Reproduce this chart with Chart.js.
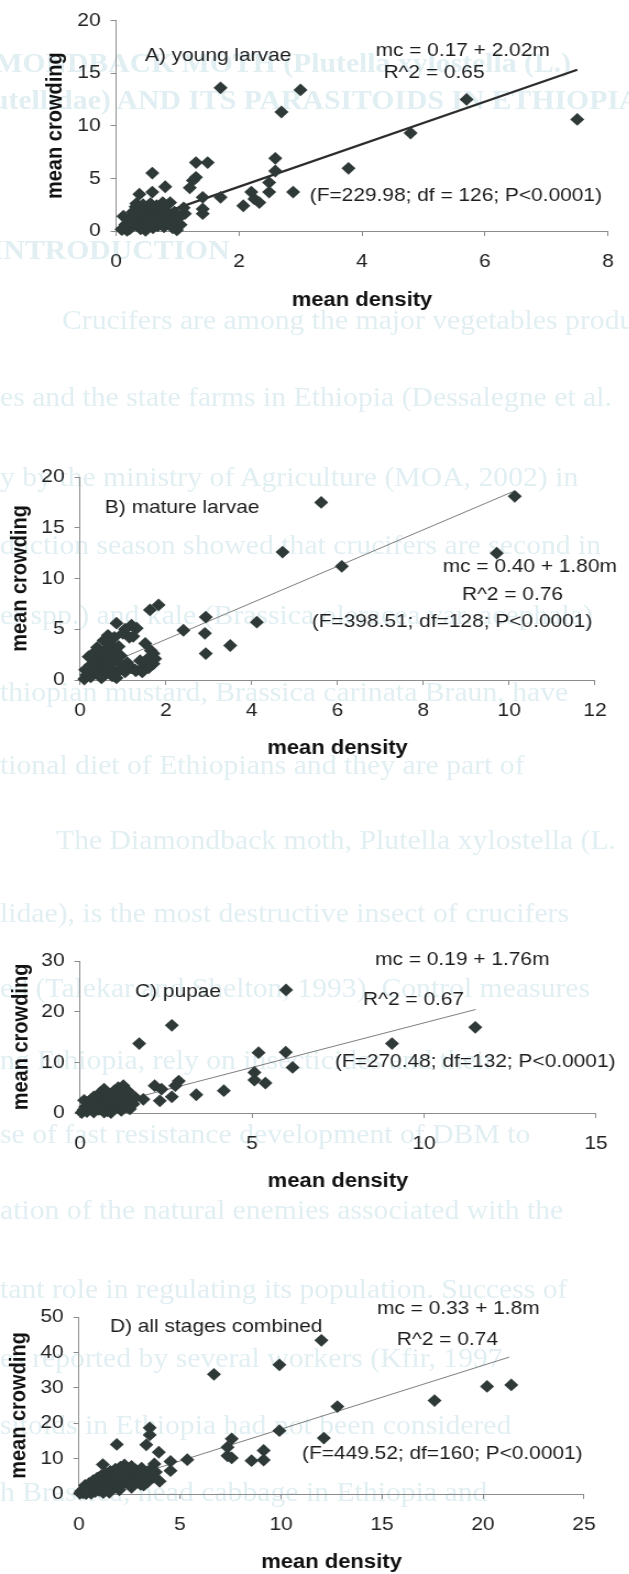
<!DOCTYPE html>
<html>
<head>
<meta charset="utf-8">
<script src="https://cdn.jsdelivr.net/npm/chart.js@4.4.1/dist/chart.umd.min.js"></script>
<style>
    html, body { margin: 0; padding: 0; background: #fff; overflow: hidden; }
    #page { position: absolute; left: 0; top: 0; width: 572px; height: 1574px; transform: scaleX(1.1); transform-origin: 0 0; overflow: hidden; }
    #page canvas { position: absolute; left: 0; }
    .bleed { position: absolute; white-space: nowrap; font-family: 'Liberation Serif', 'Times New Roman', serif;
             font-size: 27px; line-height: 30px; color: #e1eff3; }
    .bleed.head { font-weight: bold; }
</style>
</head>
<body>
<div id="page">
    <div id="bleed"></div>
    <canvas id="chartA"></canvas>
    <canvas id="chartB"></canvas>
    <canvas id="chartC"></canvas>
    <canvas id="chartD"></canvas>
</div>
<script>
// A) young larvae
var aDensity = [1.70, 3.00, 2.69, 5.70, 7.50, 4.79, 3.78, 2.88, 2.59, 2.59, 2.49, 2.49, 2.33, 2.25, 2.20, 2.07, 1.70, 1.49,
    1.30, 1.30, 1.25, 1.20, 1.41, 1.41, 1.41, 1.12, 1.01, 0.99, 0.88, 0.80, 0.59, 0.59, 0.38, 0.33, 0.22, 0.09,
    0.10, 0.18, 0.25, 0.30, 0.35, 0.40, 0.42, 0.45, 0.48, 0.50, 0.52, 0.55, 0.58, 0.60, 0.62, 0.65, 0.68, 0.70,
    0.72, 0.75, 0.78, 0.80, 0.82, 0.85, 0.88, 0.90, 0.92, 0.95, 0.98, 1.02, 1.05, 0.15, 0.20, 0.27, 0.32, 0.38,
    0.44, 0.50, 0.56, 0.66, 0.76, 1.10, 0.12, 0.22, 0.35];
var aCrowding = [13.6, 13.4, 11.3, 12.5, 10.6, 9.3, 5.95, 3.7, 6.9, 5.7, 4.6, 3.7, 2.7, 3.05, 3.7, 2.4, 3.2, 6.5,
    6.5, 5.1, 4.8, 4.1, 3.2, 2.1, 1.65, 1.65, 1.2, 0.1, 2.7, 4.2, 5.5, 3.7, 3.5, 2.6, 1.19, 0.16,
    0.15, 0.05, 0.4, 0.9, 1.3, 0.2, 0.8, 1.6, 0.05, 1.1, 2.0, 0.6, 1.4, 0.3, 1.9, 1.0, 0.5, 1.6,
    2.2, 0.9, 0.4, 1.3, 1.9, 0.7, 1.5, 1.1, 0.3, 1.8, 0.8, 1.3, 0.6, 0.6, 1.0, 1.8, 2.3, 1.9,
    2.5, 2.2, 2.6, 2.4, 2.7, 2.2, 1.4, 0.2, 0.5];
var aTrendX = [0.1, 7.5];
var aTrendY = [0.37, 15.32];

// B) mature larvae
var bDensity = [5.62, 10.13, 4.72, 6.10, 9.71, 2.93, 2.91, 2.93, 2.41, 3.50, 4.12, 1.83, 1.63, 0.85, 1.20, 1.32,
    1.24, 1.52, 1.71, 1.71, 1.48, 1.28, 1.09, 0.62,
    0.10, 0.15, 0.20, 0.25, 0.30, 0.35, 0.40, 0.45, 0.50, 0.50, 0.55, 0.60, 0.60, 0.65, 0.70, 0.70,
    0.75, 0.75, 0.80, 0.80, 0.90, 0.90, 0.95, 1.00, 1.00, 1.05, 1.05, 1.10, 1.15, 1.20, 1.30, 1.40,
    1.50, 1.60, 1.65, 1.75, 0.20, 0.30, 0.40, 0.55, 0.65, 0.35, 0.45, 0.25, 0.12, 0.85, 1.45, 1.60];
var bCrowding = [17.5, 18.1, 12.6, 11.2, 12.5, 6.2, 4.6, 2.6, 4.9, 3.4, 5.7, 7.4, 6.9, 5.6, 5.4, 5.1,
    4.3, 3.6, 2.6, 1.6, 1.3, 1.0, 1.0, 1.0,
    0.1, 0.5, 0.9, 0.3, 1.4, 0.7, 2.0, 1.1, 0.2, 2.6, 1.6, 0.6, 3.0, 2.2, 1.2, 3.6,
    0.4, 2.8, 1.8, 4.2, 0.9, 3.3, 2.4, 4.6, 1.4, 0.8, 5.0, 1.7, 4.2, 1.2, 0.9, 1.9,
    1.7, 2.2, 2.9, 2.1, 2.3, 2.6, 3.2, 3.9, 4.4, 1.8, 0.5, 1.5, 1.0, 0.2, 0.8, 1.2];
var bTrendX = [0.1, 10.1];
var bTrendY = [0.58, 18.58];

// C) pupae
var cDensity = [5.99, 2.67, 1.72, 11.49, 9.07, 5.19, 5.98, 6.18, 5.07, 5.07, 5.39, 4.18, 3.38, 2.87, 2.77, 2.67,
    2.17, 2.32, 2.37, 1.84, 1.55, 1.55, 1.26, 1.11, 0.70,
    0.05, 0.10, 0.15, 0.20, 0.25, 0.30, 0.35, 0.40, 0.45, 0.50, 0.55, 0.60, 0.65, 0.70, 0.75, 0.80,
    0.85, 0.90, 0.95, 1.00, 1.05, 1.10, 1.15, 1.20, 1.25, 1.30, 1.35, 1.40, 1.45, 1.50, 0.20, 0.40,
    0.60, 0.80, 1.00, 0.30, 0.50, 0.70, 0.90, 1.20, 1.40, 0.12, 1.60];
var cCrowding = [24.3, 17.3, 13.7, 16.9, 13.7, 11.9, 12.0, 9.0, 8.0, 6.5, 5.9, 4.4, 3.6, 6.3, 5.4, 3.2,
    5.4, 2.4, 4.7, 2.7, 1.8, 2.7, 5.4, 5.0, 4.7,
    0.1, 0.6, 1.2, 0.3, 1.8, 0.8, 2.4, 0.2, 1.4, 3.0, 0.7, 2.0, 3.6, 1.1, 2.7, 0.4,
    3.3, 1.7, 2.4, 0.9, 3.8, 1.5, 2.9, 0.5, 2.2, 3.4, 1.2, 2.6, 0.8, 1.9, 2.1, 3.2,
    4.1, 4.0, 4.4, 1.5, 1.0, 0.2, 0.1, 4.0, 4.3, 2.5, 3.1];
var cTrendX = [0.05, 11.5];
var cTrendY = [0.28, 20.43];

// D) all stages combined
var dDensity = [12.0, 9.92, 6.68, 20.2, 21.4, 17.6, 12.79, 9.92, 12.12, 7.56, 7.35, 7.35, 7.56, 8.54, 9.14, 9.14,
    5.36, 4.53, 1.87, 3.50, 3.50, 3.33, 3.95, 3.73, 3.99, 1.18, 4.53,
    0.05, 0.10, 0.20, 0.25, 0.30, 0.40, 0.45, 0.50, 0.55, 0.60, 0.65, 0.70, 0.75, 0.80, 0.85, 0.90,
    0.95, 1.00, 1.05, 1.10, 1.15, 1.20, 1.25, 1.30, 1.35, 1.40, 1.45, 1.50, 1.55, 1.60, 1.65, 1.70,
    1.75, 1.80, 1.85, 1.90, 1.95, 2.00, 2.05, 2.10, 2.15, 2.20, 2.25, 2.30, 2.35, 2.40, 2.45, 2.50,
    2.55, 2.60, 2.70, 2.75, 2.80, 2.90, 3.00, 3.05, 3.10, 3.20, 3.30, 3.40, 3.45, 3.55, 3.70, 3.80,
    1.20, 0.35, 1.50, 2.00, 2.60, 3.20];
var dCrowding = [43.4, 36.5, 33.8, 30.4, 30.8, 26.4, 24.7, 17.9, 15.8, 15.6, 13.2, 10.8, 10.2, 9.4, 12.3, 9.6,
    9.7, 9.2, 14.0, 18.7, 16.7, 13.9, 11.8, 8.5, 3.6, 8.3, 6.6,
    0.2, 0.8, 0.3, 1.5, 2.4, 0.6, 1.9, 3.0, 1.2, 0.2, 2.5, 3.8, 1.6, 0.7, 3.2, 4.5,
    2.2, 1.0, 3.6, 5.2, 2.6, 0.4, 4.2, 1.7, 5.8, 3.1, 2.0, 4.7, 6.4, 1.3, 3.6, 5.3,
    2.6, 7.0, 4.3, 1.8, 5.9, 3.4, 7.6, 2.5, 4.9, 6.6, 8.2, 3.8, 5.6, 7.2, 2.9, 4.4,
    6.2, 7.8, 3.5, 5.1, 6.8, 4.0, 5.8, 2.7, 7.3, 4.6, 6.1, 3.4, 5.2, 7.0, 4.8, 6.2,
    0.6, 0.1, 0.5, 1.2, 1.9, 2.5];
var dTrendX = [0.05, 21.3];
var dTrendY = [0.42, 38.67];

// faint text showing through from the other side of the scanned page
var bleedLines = [
    [-60, 48, 'DIAMONDBACK MOTH (Plutella xylostella (L.)', true],
    [-8, 85, 'utellidae) AND ITS PARASITOIDS IN ETHIOPIA', true],
    [-8, 235, 'INTRODUCTION', true],
    [62, 305, 'Crucifers are among the major vegetables produced', false],
    [0, 382, 'es and the state farms in Ethiopia (Dessalegne et al.', false],
    [0, 462, 'y by the ministry of Agriculture (MOA, 2002) in', false],
    [0, 530, 'duction season showed that crucifers are second in', false],
    [0, 600, 'er spp.) and kale (Brassica oleracea var. acephala)', false],
    [0, 677, 'thiopian mustard, Brassica carinata Braun, have', false],
    [0, 750, 'tional diet of Ethiopians and they are part of', false],
    [56, 825, 'The Diamondback moth, Plutella xylostella (L.', false],
    [0, 898, 'lidae), is the most destructive insect of crucifers', false],
    [0, 973, 'ed (Talekar and Shelton, 1993). Control measures', false],
    [0, 1045, 'ng Ethiopia, rely on insecticides and their', false],
    [0, 1119, 'se of fast resistance development of DBM to', false],
    [0, 1195, 'ation of the natural enemies associated with the', false],
    [0, 1274, 'tant role in regulating its population. Success of', false],
    [0, 1343, 'es reported by several workers (Kfir, 1997', false],
    [0, 1410, 'sitoids in Ethiopia had not been considered', false],
    [0, 1477, 'h Brassica, head cabbage in Ethiopia and', false]
];

var FONT = "'Liberation Sans', Arial, Helvetica, sans-serif";
var STRETCH = 1.1;      // the scanned page is a little wider than tall
var CANVAS_W = 572;
var MARK = '#2f3a38';

Chart.defaults.font.family = FONT;
Chart.defaults.color = '#222';

var bleed = document.getElementById('bleed');
bleedLines.forEach(function (l) {
    var d = document.createElement('div');
    d.className = l[3] ? 'bleed head' : 'bleed';
    d.style.left = (l[0] / STRETCH) + 'px';
    d.style.top = l[1] + 'px';
    d.textContent = l[2];
    bleed.appendChild(d);
});

function pts(xs, ys) {
    return xs.map(function (x, i) { return { x: x, y: ys[i] }; });
}

function makePanel(p) {
    var canvas = document.getElementById(p.id);
    canvas.width = CANVAS_W;
    canvas.height = p.height;
    canvas.style.top = p.top + 'px';

    var xh = p.xTitleY - p.plotBottom + 12;
    var padLeft = p.yTitleX / STRETCH - 12;
    var yw = p.plotLeft / STRETCH - padLeft;

    var notes = {
        id: 'notes',
        afterDraw: function (chart) {
            var ctx = chart.ctx;
            var xs = chart.scales.x, ys = chart.scales.y;
            ctx.save();
            ctx.font = '19px ' + FONT;
            ctx.fillStyle = '#1c1c1c';
            ctx.textBaseline = 'middle';
            ctx.textAlign = 'left';
            p.notes.forEach(function (n) {
                ctx.fillText(n.text, xs.getPixelForValue(n.x), ys.getPixelForValue(n.y));
            });
            ctx.restore();
        }
    };

    return new Chart(canvas, {
        type: 'scatter',
        data: {
            datasets: [{
                data: pts(p.xs, p.ys),
                pointStyle: 'rectRot',
                pointRadius: 6.4,
                pointHoverRadius: 6.4,
                backgroundColor: MARK,
                borderColor: MARK,
                borderWidth: 0,
                clip: false
            }, {
                type: 'line',
                data: pts(p.trendX, p.trendY),
                showLine: true,
                pointRadius: 0,
                borderColor: p.lineColor,
                borderWidth: p.lineWidth,
                fill: false,
                clip: false
            }]
        },
        options: {
            responsive: false,
            animation: false,
            devicePixelRatio: 1,
            events: [],
            layout: {
                padding: {
                    top: p.plotTop - p.top,
                    left: padLeft,
                    right: CANVAS_W - p.plotRight / STRETCH,
                    bottom: p.height - (p.plotBottom - p.top) - xh
                }
            },
            plugins: {
                legend: { display: false },
                tooltip: { enabled: false }
            },
            scales: {
                x: {
                    type: 'linear',
                    min: 0,
                    max: p.xMax,
                    ticks: { stepSize: p.xStep, padding: 14, font: { size: 19 }, color: '#222' },
                    grid: { display: true, drawOnChartArea: false, drawTicks: true, tickLength: 5, tickColor: '#8c8c8c' },
                    border: { display: true, color: '#8c8c8c', width: 1 },
                    title: { display: true, text: 'mean density', padding: 0, color: '#111', font: { size: 20, weight: 'bold' } },
                    afterFit: function (s) { s.height = xh; }
                },
                y: {
                    type: 'linear',
                    min: 0,
                    max: p.yMax,
                    ticks: { stepSize: p.yStep, padding: 9, font: { size: 19 }, color: '#222' },
                    grid: { display: true, drawOnChartArea: false, drawTicks: true, tickLength: 5, tickColor: '#8c8c8c' },
                    border: { display: true, color: '#8c8c8c', width: 1 },
                    title: { display: true, text: 'mean crowding', padding: 0, color: '#111', font: { size: 20, weight: 'bold' } },
                    afterFit: function (s) { s.width = yw; }
                }
            }
        },
        plugins: [notes]
    });
}

makePanel({
    id: 'chartA', top: 0, height: 330,
    plotLeft: 116, plotRight: 622, plotTop: 17, plotBottom: 231, yTitleX: 56, xTitleY: 300,
    xMax: 8, xStep: 2, yMax: 20, yStep: 5,
    xs: aDensity, ys: aCrowding, trendX: aTrendX, trendY: aTrendY,
    lineColor: '#2b2b2b', lineWidth: 2.2,
    notes: [
        { text: 'A) young larvae', x: 0.47, y: 16.6 },
        { text: 'mc = 0.17 + 2.02m', x: 4.22, y: 17.1 },
        { text: 'R^2 = 0.65', x: 4.35, y: 15.05 },
        { text: '(F=229.98; df = 126; P<0.0001)', x: 3.15, y: 3.3 }
    ]
});

makePanel({
    id: 'chartB', top: 440, height: 330,
    plotLeft: 80, plotRight: 595, plotTop: 477, plotBottom: 680, yTitleX: 20, xTitleY: 748,
    xMax: 12, xStep: 2, yMax: 20, yStep: 5,
    xs: bDensity, ys: bCrowding, trendX: bTrendX, trendY: bTrendY,
    lineColor: '#7c7c7c', lineWidth: 1,
    notes: [
        { text: 'B) mature larvae', x: 0.58, y: 17.0 },
        { text: 'mc = 0.40 + 1.80m', x: 8.45, y: 11.2 },
        { text: 'R^2 = 0.76', x: 8.9, y: 8.4 },
        { text: '(F=398.51; df=128; P<0.0001)', x: 5.4, y: 5.7 }
    ]
});

makePanel({
    id: 'chartC', top: 920, height: 280,
    plotLeft: 80, plotRight: 596, plotTop: 961, plotBottom: 1113, yTitleX: 21, xTitleY: 1181,
    xMax: 15, xStep: 5, yMax: 30, yStep: 10,
    xs: cDensity, ys: cCrowding, trendX: cTrendX, trendY: cTrendY,
    lineColor: '#7c7c7c', lineWidth: 1,
    notes: [
        { text: 'C) pupae', x: 1.6, y: 23.9 },
        { text: 'mc = 0.19 + 1.76m', x: 8.58, y: 30.2 },
        { text: 'R^2 = 0.67', x: 8.23, y: 22.3 },
        { text: '(F=270.48; df=132; P<0.0001)', x: 7.41, y: 10.1 }
    ]
});

makePanel({
    id: 'chartD', top: 1280, height: 294,
    plotLeft: 79, plotRight: 584, plotTop: 1317, plotBottom: 1494, yTitleX: 19, xTitleY: 1562,
    xMax: 25, xStep: 5, yMax: 50, yStep: 10,
    xs: dDensity, ys: dCrowding, trendX: dTrendX, trendY: dTrendY,
    lineColor: '#7c7c7c', lineWidth: 1,
    notes: [
        { text: 'D) all stages combined', x: 1.53, y: 47.2 },
        { text: 'mc = 0.33 + 1.8m', x: 14.75, y: 52.3 },
        { text: 'R^2 = 0.74', x: 15.74, y: 43.5 },
        { text: '(F=449.52; df=160; P<0.0001)', x: 11.04, y: 11.5 }
    ]
});
</script>
</body>
</html>
